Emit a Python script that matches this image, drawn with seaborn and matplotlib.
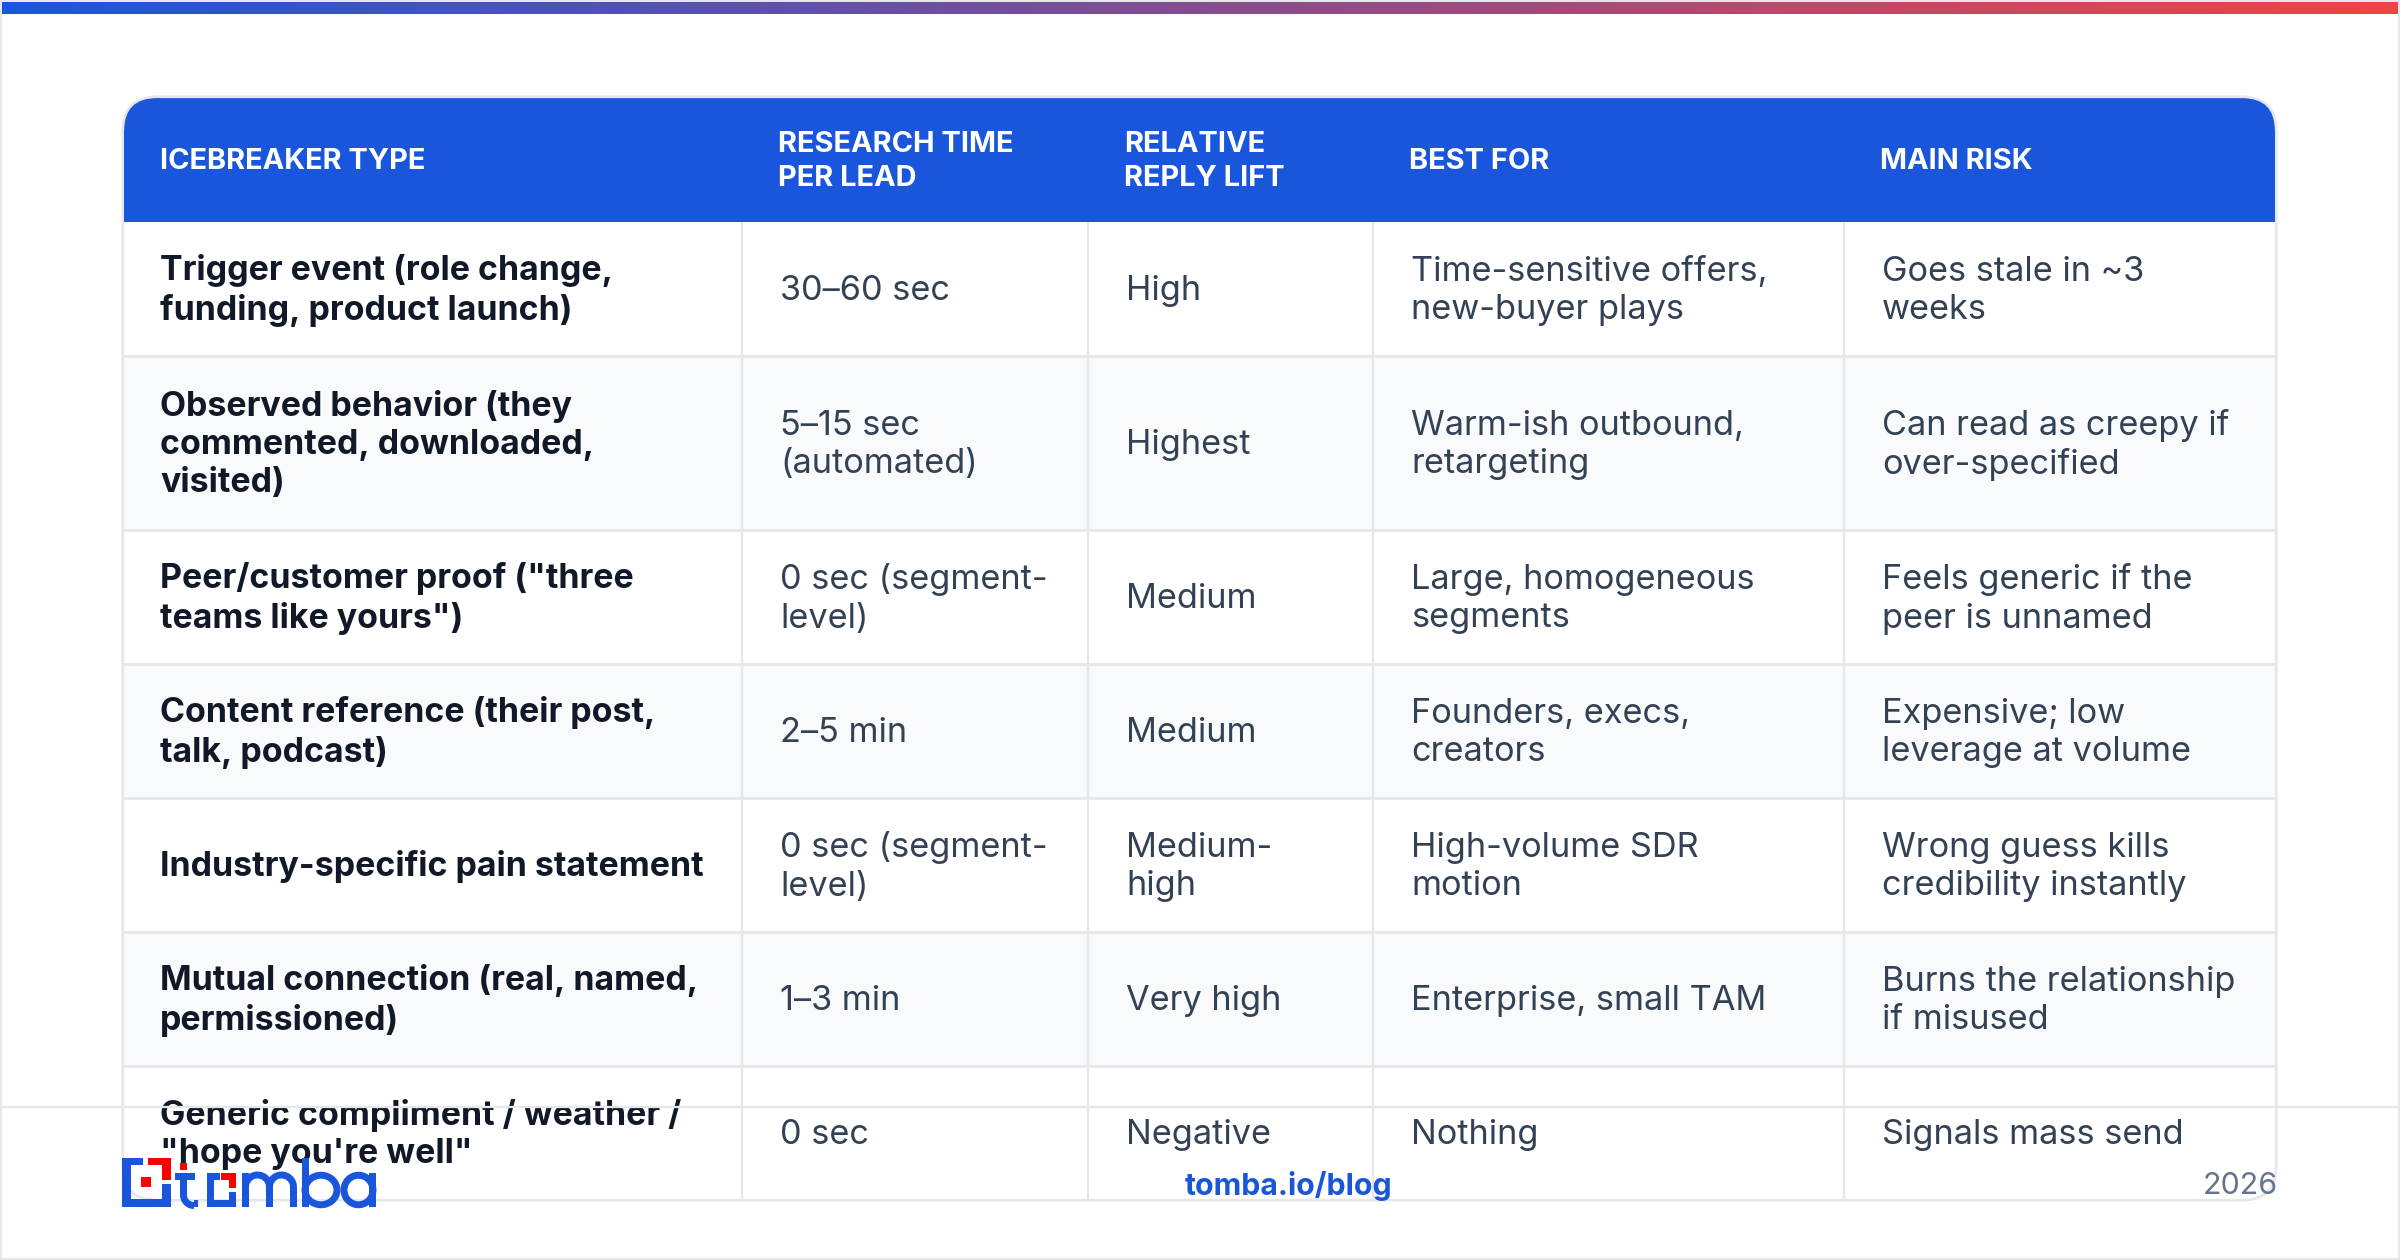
import numpy as np
import pandas as pd
import seaborn as sns
import matplotlib.pyplot as plt
from matplotlib.patches import Ellipse, FancyBboxPatch, Rectangle

# table content, line breaks as in the source
columns = ["ICEBREAKER TYPE", "RESEARCH TIME\nPER LEAD", "RELATIVE\nREPLY LIFT", "BEST FOR", "MAIN RISK"]
icebreaker_types = [
    "Trigger event (role change,\nfunding, product launch)",
    "Observed behavior (they\ncommented, downloaded,\nvisited)",
    'Peer/customer proof ("three\nteams like yours")',
    "Content reference (their post,\ntalk, podcast)",
    "Industry-specific pain statement",
    "Mutual connection (real, named,\npermissioned)",
    'Generic compliment / weather /\n"hope you\'re well"',
]
research_time = [
    "30–60 sec", "5–15 sec\n(automated)", "0 sec (segment-\nlevel)", "2–5 min",
    "0 sec (segment-\nlevel)", "1–3 min", "0 sec",
]
reply_lift = ["High", "Highest", "Medium", "Medium", "Medium-\nhigh", "Very high", "Negative"]
best_for = [
    "Time-sensitive offers,\nnew-buyer plays", "Warm-ish outbound,\nretargeting",
    "Large, homogeneous\nsegments", "Founders, execs,\ncreators",
    "High-volume SDR\nmotion", "Enterprise, small TAM", "Nothing",
]
main_risk = [
    "Goes stale in ~3\nweeks", "Can read as creepy if\nover-specified",
    "Feels generic if the\npeer is unnamed", "Expensive; low\nleverage at volume",
    "Wrong guess kills\ncredibility instantly", "Burns the relationship\nif misused",
    "Signals mass send",
]
footer_url = "tomba.io/blog"
footer_year = "2026"

df = pd.DataFrame(dict(zip(columns, [icebreaker_types, research_time, reply_lift, best_for, main_risk])))

BLUE = "#1a56db"
RED = "#ff0000"
GRID = "#e5e7eb"
STRIPE = "#f9fafb"
PX = 0.72  # px to pt at dpi 100

sns.set_theme(style="white")
plt.rcParams["font.family"] = ["Inter", "DejaVu Sans"]

fig = plt.figure(figsize=(24, 12.6), dpi=100)
ax = fig.add_axes([0, 0, 1, 1])
ax.set_xlim(0, 2400)
ax.set_ylim(1260, 0)
ax.axis("off")

# page border and top gradient bar
ax.add_patch(Rectangle((1, 1), 2398, 1258, fc="white", ec=GRID, lw=1.5))
bar_ax = fig.add_axes([2 / 2400, 1 - 14 / 1260, 2396 / 2400, 12 / 1260])
sns.heatmap(
    np.linspace(0, 1, 600).reshape(1, -1),
    cmap=sns.blend_palette([BLUE, "#ef4444"], as_cmap=True),
    cbar=False, xticklabels=False, yticklabels=False, ax=bar_ax,
)

# table geometry
left, right, top, head_bottom = 123, 2276, 97, 222
col_edges = [left, 742, 1088, 1373, 1844, right]
row_heights = [54 + 40 * max(max(c.count("\n") for c in row) + 1, 2) for row in df.values]
row_heights[-1] = 134
row_edges = np.cumsum([head_bottom + 0] + row_heights).astype(float)
bottom = row_edges[-1]
radius = 34

clip = FancyBboxPatch(
    (left, top), right - left, bottom - top,
    boxstyle=f"round,pad=0,rounding_size={radius}", fc="white", ec=GRID, lw=2.2, zorder=1,
)
ax.add_patch(clip)

header = Rectangle((left, top), right - left, head_bottom - top, fc=BLUE, ec="none", zorder=2)
ax.add_patch(header)
header.set_clip_path(clip)
for i in range(len(df)):
    color = STRIPE if i % 2 else "white"
    band = Rectangle((left, row_edges[i]), right - left, row_heights[i], fc=color, ec="none", zorder=2)
    ax.add_patch(band)
    band.set_clip_path(clip)

for y in row_edges[1:-1]:
    ax.plot([left, right], [y, y], color=GRID, lw=2.0, zorder=3, solid_capstyle="butt")
for x in col_edges[1:-1]:
    ax.plot([x, x], [head_bottom, bottom], color=GRID, lw=1.6, zorder=3, solid_capstyle="butt")

# redraw the frame on top of the fills
ax.add_patch(FancyBboxPatch(
    (left, top), right - left, bottom - top,
    boxstyle=f"round,pad=0,rounding_size={radius}", fc="none", ec=GRID, lw=1.6, zorder=3,
))
ax.add_patch(Rectangle((left + 1, top + radius), right - left - 2, head_bottom - top - radius, fc=BLUE, ec="none", zorder=3))

# header text
for j, name in enumerate(columns):
    x = col_edges[j] + (37 if j == 0 else 36)
    ax.text(x, (top + head_bottom) / 2 + 2, name, color="white", fontsize=29 * PX, fontweight="bold",
            va="center", ha="left", linespacing=1.3, zorder=4)

# body text
for i, row in enumerate(df.values):
    mid = row_edges[i] + row_heights[i] / 2 + 1.5
    for j, cell in enumerate(row):
        x = col_edges[j] + (37 if j == 0 else 38)
        if j == 0:
            ax.text(x, mid, cell, color="#111827", fontsize=33.9 * PX, fontweight="bold",
                    va="center", ha="left", linespacing=1.25, zorder=4)
        else:
            ax.text(x, mid + 0.5, cell, color="#334155", fontsize=34.3 * PX,
                    va="center", ha="left", linespacing=1.25, zorder=4)

# footer
ax.plot([0, 2400], [1107, 1107], color=GRID, lw=1.6, zorder=5)
ax.text(1289, 1186, footer_url, color=BLUE, fontsize=30.3 * PX, fontweight="bold", ha="center", va="center", zorder=6)
ax.text(2278, 1186, footer_year, color="#64748b", fontsize=30.5 * PX, ha="right", va="center", zorder=6)


# logo, drawn from simple shapes
def box(x0, y0, x1, y1, color):
    ax.add_patch(Rectangle((x0, y0), x1 - x0, y1 - y0, fc=color, ec="none", zorder=7))


def arc(cx, cy, r, t0, t1):
    t = np.radians(np.linspace(t0, t1, 40))
    ax.plot(cx + r * np.cos(t), cy + r * np.sin(t), color=BLUE, lw=5, zorder=7, solid_capstyle="butt")


base = 1206.7
box(122, 1158, 130.7, base, BLUE)
box(122, 1158, 143, 1165, BLUE)
box(122, 1199, 170.5, base, BLUE)
box(162, 1184, 170.5, base, BLUE)
box(148, 1158, 170.5, 1165, RED)
box(162, 1158, 170.5, 1180, RED)
box(141, 1177, 151, 1187, RED)
# t
box(180, 1163, 187, 1169.5, RED)
box(175, 1173, 195, 1180, BLUE)
box(180, 1173, 187, 1195, BLUE)
arc(194, 1195, 10.5, 90, 180)
box(194, 1199.7, 198, base, BLUE)
# square o
box(206.5, 1173, 213.5, base, BLUE)
box(206.5, 1173, 220, 1180, BLUE)
box(206.5, 1199.7, 235.5, base, BLUE)
box(229, 1191.5, 235.5, base, BLUE)
box(220.5, 1173, 235.5, 1180, RED)
box(229, 1173, 235.5, 1187.5, RED)
# m
box(242, 1172.5, 249, base, BLUE)
box(266, 1187, 273, base, BLUE)
box(290, 1187, 297, base, BLUE)
arc(257.5, 1187, 12, 180, 360)
arc(281.5, 1187, 12, 180, 360)
# b and a
box(302, 1158, 309, base, BLUE)
ax.add_patch(Ellipse((321, 1190), 32, 29.5, fc="none", ec=BLUE, lw=5, zorder=7))
box(369, 1172.5, 376, base, BLUE)
ax.add_patch(Ellipse((358.5, 1190), 29, 29.5, fc="none", ec=BLUE, lw=5, zorder=7))

fig.savefig("out.png", dpi=100)
